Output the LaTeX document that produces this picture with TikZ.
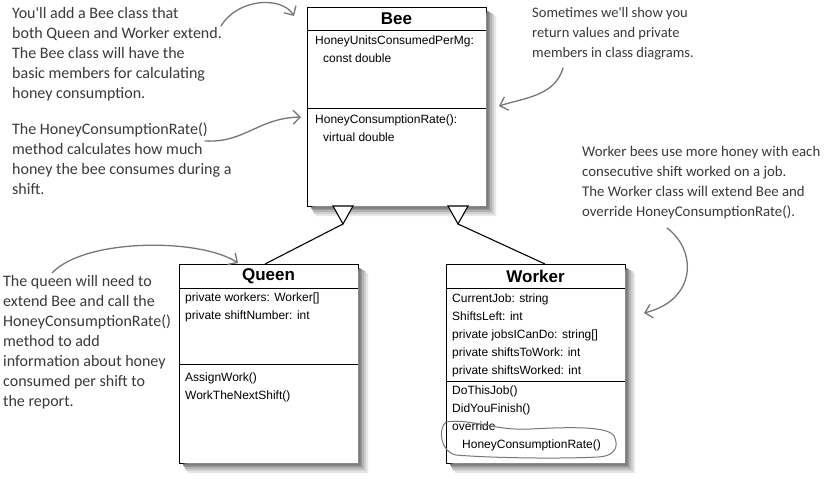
\documentclass[tikz,border=0pt]{standalone}
\usepackage{fontspec}
\setmainfont{Liberation Sans}
\newfontfamily\handfont{Carlito}
\usetikzlibrary{arrows.meta}
\definecolor{notegray}{HTML}{3A3A3A}
\definecolor{arrowgray}{HTML}{777777}
\definecolor{shA}{HTML}{E8E8E8}
\definecolor{shB}{HTML}{D0D0D0}
\definecolor{shC}{HTML}{B4B4B4}
\definecolor{shD}{HTML}{989898}
\definecolor{shE}{HTML}{7C7C7C}
\newcommand\myboxshadow[1]{%
  \begin{scope}[shift={#1}]
    \fill[shA] (0.5,-190) -- (10,-190) -- (10,10) -- (-170,10) -- (-170,0.5) -- (0.5,0.5) -- cycle;
    \fill[shB] (0.5,-192) -- (8,-192) -- (8,8) -- (-172,8) -- (-172,0.5) -- (0.5,0.5) -- cycle;
    \fill[shC] (0.5,-193) -- (6,-193) -- (6,6) -- (-173,6) -- (-173,0.5) -- (0.5,0.5) -- cycle;
    \fill[shD] (0.5,-194) -- (4,-194) -- (4,4) -- (-174,4) -- (-174,0.5) -- (0.5,0.5) -- cycle;
    \fill[shE] (0.5,-195) -- (2.5,-195) -- (2.5,2.5) -- (-175,2.5) -- (-175,0.5) -- (0.5,0.5) -- cycle;
  \end{scope}}
\begin{document}
\begin{tikzpicture}[x=1pt,y=-1pt,
  umlbox/.style={draw=black, line width=0.9pt, fill=white, rectangle, minimum width=179pt, inner sep=0pt, outer sep=0pt, anchor=north west},
  umltitle/.style={font=\fontsize{17}{20}\selectfont\bfseries, inner sep=0pt},
  classtxt/.style={font=\fontsize{12}{18}\selectfont, align=left, anchor=north west, inner sep=0pt},
  handtxt/.style={font=\handfont\fontsize{16}{20}\selectfont, text=notegray, align=left, anchor=north west, inner sep=0pt},
  notearrow/.style={draw=arrowgray, line width=1.3pt, line cap=round, -{Straight Barb[length=7pt,width=14pt]}},
  divider/.style={line width=0.9pt},
  inherit/.style={line width=1.1pt}
]
\useasboundingbox (0,0) rectangle (828,479);
\fill[white] (0,0) rectangle (828,479);

% Bee class
\node[umlbox, minimum height=199pt] (bee) at (307,7) {};
\draw[divider] (307,30) -- (486,30);
\draw[divider] (307,108) -- (486,108);
\node[umltitle] (beetitle) at (396.5,18.5) {Bee};
\node[classtxt] (beeattr) at (315,35.5) {HoneyUnitsConsumedPerMg:\\\hspace*{8pt}const double};
\node[classtxt] (beemeth) at (315,114.5) {HoneyConsumptionRate():\\\hspace*{8pt}virtual double};

% Queen class
\node[umlbox, minimum height=199pt] (queen) at (179,264) {};
\draw[divider] (179,288) -- (358,288);
\draw[divider] (179,364) -- (358,364);
\node[umltitle] (queentitle) at (268.5,276) {Queen};
\node[classtxt] (queenattr) at (185,292.5) {private workers: Worker[]\\private shiftNumber: int};
\node[classtxt] (queenmeth) at (185,372.5) {AssignWork()\\WorkTheNextShift()};

% Worker class
\node[umlbox, minimum height=199pt] (worker) at (446,264) {};
\draw[divider] (446,288) -- (625,288);
\draw[divider] (446,381) -- (625,381);
\node[umltitle] (workertitle) at (535.5,276) {Worker};
\node[classtxt] (workerattr) at (452,293.5) {CurrentJob: string\\ShiftsLeft: int\\private jobsICanDo: string[]\\private shiftsToWork: int\\private shiftsWorked: int};
\node[classtxt] (workermeth) at (452,385.5) {DoThisJob()\\DidYouFinish()\\override\\\hspace*{10pt}HoneyConsumptionRate()};

% soft shadows outside the boxes (drawn after them)
\myboxshadow{(bee.south east)}
\myboxshadow{(queen.south east)}
\myboxshadow{(worker.south east)}

% inheritance
\coordinate (tq) at (343,224);
\coordinate (tw) at (458,224);
\coordinate (qtop) at (265,264);
\coordinate (wtop) at (545,264);
\draw[inherit] (tq) -- (qtop);
\draw[inherit] (tw) -- (wtop);
\draw[inherit, fill=white, line join=miter] (333,206) -- (353,206) -- (tq) -- cycle;
\draw[inherit, fill=white, line join=miter] (448,206) -- (468,206) -- (tw) -- cycle;

% annotations
\node[handtxt] (n1) at (12,7) {You'll add a Bee class that\\both Queen and Worker extend.\\The Bee class will have the\\basic members for calculating\\honey consumption.};
\node[handtxt] (n2) at (12,123) {The HoneyConsumptionRate()\\method calculates how much\\honey the bee consumes during a\\shift.};
\node[handtxt, font=\handfont\fontsize{14.5}{20}\selectfont] (n3) at (532,7) {Sometimes we'll show you\\return values and private\\members in class diagrams.};
\node[handtxt, font=\handfont\fontsize{14.8}{20}\selectfont] (n4) at (582,146) {Worker bees use more honey with each\\consecutive shift worked on a job.\\The Worker class will extend Bee and\\override HoneyConsumptionRate().};
\node[handtxt] (n5) at (3,275) {The queen will need to\\extend Bee and call the\\HoneyConsumptionRate()\\method to add\\information about honey\\consumed per shift to\\the report.};

% annotation arrows
\coordinate (a1s) at (221,26);
\coordinate (a1e) at (294,16);
\draw[notearrow] (a1s) .. controls (238,-2) and (282,-4) .. (a1e);
\coordinate (a2s) at (205,141);
\coordinate (a2e) at (301,117);
\draw[notearrow] (a2s) .. controls (245,143) and (258,118) .. (a2e);
\coordinate (a3s) at (563,68);
\coordinate (a3e) at (499,106);
\draw[notearrow] (a3s) .. controls (555,96) and (524,98) .. (a3e);
\coordinate (a4s) at (667,228);
\coordinate (a4e) at (644,313);
\draw[notearrow] (a4s) .. controls (697,250) and (697,300) .. (a4e);
\coordinate (a5s) at (52,273);
\coordinate (a5e) at (238,263);
\draw[notearrow] (a5s) .. controls (85,238) and (200,238) .. (a5e);

% hand-drawn loop around override
\draw[arrowgray, line width=1pt] (446,422) .. controls (470,418) and (495,431) .. (530,429)
  .. controls (570,427) and (608,426) .. (614,436)
  .. controls (619,446) and (616,456) .. (598,457)
  .. controls (560,459) and (490,458) .. (456,455)
  .. controls (440,452) and (438,428) .. (446,422);
\end{tikzpicture}
\end{document}
